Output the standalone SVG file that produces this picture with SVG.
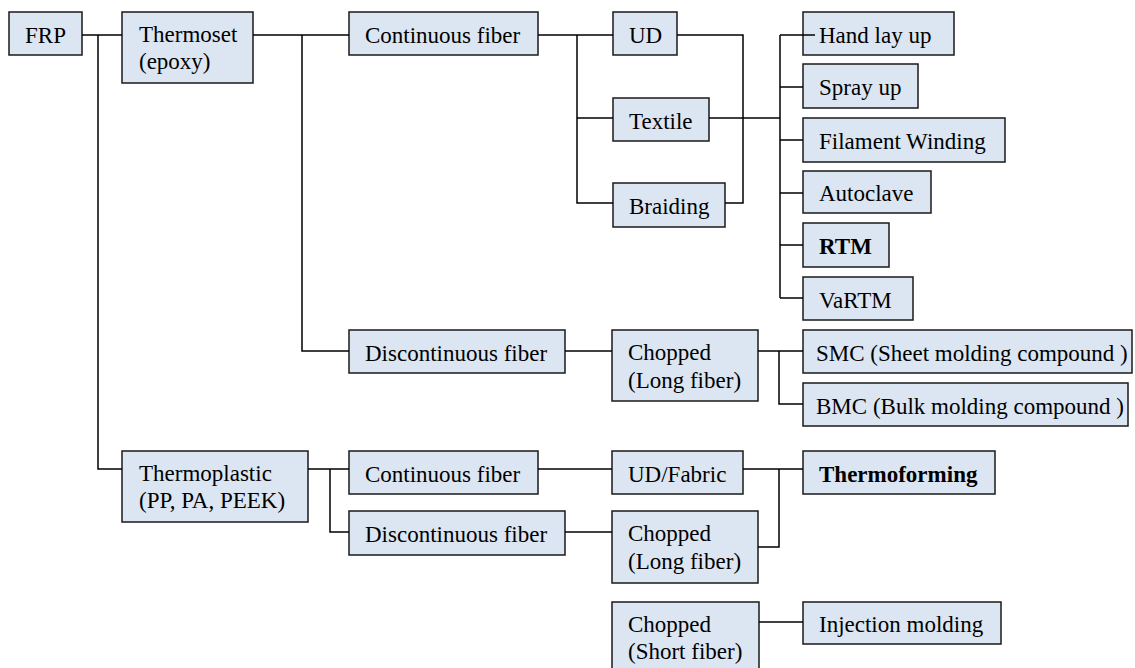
<svg xmlns="http://www.w3.org/2000/svg" width="1135" height="668" viewBox="0 0 1135 668">
<style>
.box{fill:#dce6f2;stroke:#1a1a1a;stroke-width:1.5}
text{font-family:"Times New Roman","Liberation Serif",Tinos,"Noto Serif","DejaVu Serif",serif;font-size:23px;fill:#000}
.b{font-weight:bold}
.c{fill:none;stroke:#000;stroke-width:1.5}
</style>
<rect width="1135" height="668" fill="#fff"/>
<g id="nodes">
<g id="frp"><rect class="box" x="9" y="12" width="73" height="43"/><text x="25" y="43">FRP</text></g>
<g id="thermoset"><rect class="box" x="122" y="12" width="131" height="71"/><text x="139" y="42">Thermoset</text><text x="139" y="69">(epoxy)</text></g>
<g id="cf1"><rect class="box" x="349" y="12" width="189" height="43"/><text x="365" y="43">Continuous fiber</text></g>
<g id="ud"><rect class="box" x="613" y="12" width="64" height="43"/><text x="629" y="43">UD</text></g>
<g id="textile"><rect class="box" x="613" y="98" width="96" height="43"/><text x="629" y="129">Textile</text></g>
<g id="braiding"><rect class="box" x="613" y="183" width="112" height="44"/><text x="629" y="214">Braiding</text></g>
<g id="handlayup"><rect class="box" x="803" y="12" width="151" height="43"/><text x="819" y="43">Hand lay up</text></g>
<g id="sprayup"><rect class="box" x="803" y="64" width="115" height="44"/><text x="819" y="95">Spray up</text></g>
<g id="filament"><rect class="box" x="803" y="118" width="202" height="44"/><text x="819" y="149">Filament Winding</text></g>
<g id="autoclave"><rect class="box" x="803" y="171" width="128" height="42"/><text x="819" y="201">Autoclave</text></g>
<g id="rtm"><rect class="box" x="803" y="223" width="86" height="44"/><text class="b" x="819" y="254">RTM</text></g>
<g id="vartm"><rect class="box" x="803" y="277" width="110" height="43"/><text x="819" y="308">VaRTM</text></g>
<g id="df1"><rect class="box" x="349" y="330" width="216" height="43"/><text x="365" y="361">Discontinuous fiber</text></g>
<g id="chopped1"><rect class="box" x="612" y="330" width="146" height="71"/><text x="628" y="360">Chopped</text><text x="628" y="388">(Long fiber)</text></g>
<g id="smc"><rect class="box" x="803" y="330" width="329" height="43"/><text x="816" y="361">SMC (Sheet molding compound )</text></g>
<g id="bmc"><rect class="box" x="803" y="383" width="325" height="43"/><text x="816" y="414">BMC (Bulk molding compound )</text></g>
<g id="thermoplastic"><rect class="box" x="122" y="451" width="186" height="71"/><text x="139" y="481">Thermoplastic</text><text x="139" y="508">(PP, PA, PEEK)</text></g>
<g id="cf2"><rect class="box" x="349" y="451" width="189" height="43"/><text x="365" y="482">Continuous fiber</text></g>
<g id="udfabric"><rect class="box" x="612" y="451" width="131" height="43"/><text x="628" y="482">UD/Fabric</text></g>
<g id="thermoforming"><rect class="box" x="803" y="451" width="192" height="43"/><text class="b" x="819" y="482">Thermoforming</text></g>
<g id="df2"><rect class="box" x="349" y="511" width="216" height="44"/><text x="365" y="542">Discontinuous fiber</text></g>
<g id="chopped2"><rect class="box" x="612" y="511" width="146" height="72"/><text x="628" y="541">Chopped</text><text x="628" y="569">(Long fiber)</text></g>
<g id="chopped3"><rect class="box" x="612" y="602" width="147" height="72"/><text x="628" y="632">Chopped</text><text x="628" y="659">(Short fiber)</text></g>
<g id="injection"><rect class="box" x="803" y="602" width="198" height="42"/><text x="819" y="632">Injection molding</text></g>
</g>
<g id="connectors">
<path class="c" d="M82,35H122M98,35V469H122"/>
<path class="c" d="M253,35H349M302,35V351H349"/>
<path class="c" d="M538,35H613M577,35V203H613M577,118H613"/>
<path class="c" d="M677,35H743V203H725"/>
<path class="c" d="M709,118H780"/>
<path class="c" d="M780,35V298M780,35H815M780,87H803M780,140H803M780,193H803M780,245H803M780,298H803"/>
<path class="c" d="M565,351H612"/>
<path class="c" d="M758,351H803M779,351V404H803"/>
<path class="c" d="M308,469H349M330,469V532H349"/>
<path class="c" d="M538,469H612"/>
<path class="c" d="M565,532H612"/>
<path class="c" d="M743,469H803M779,469V547H758"/>
<path class="c" d="M759,622H803"/>
</g>
</svg>
